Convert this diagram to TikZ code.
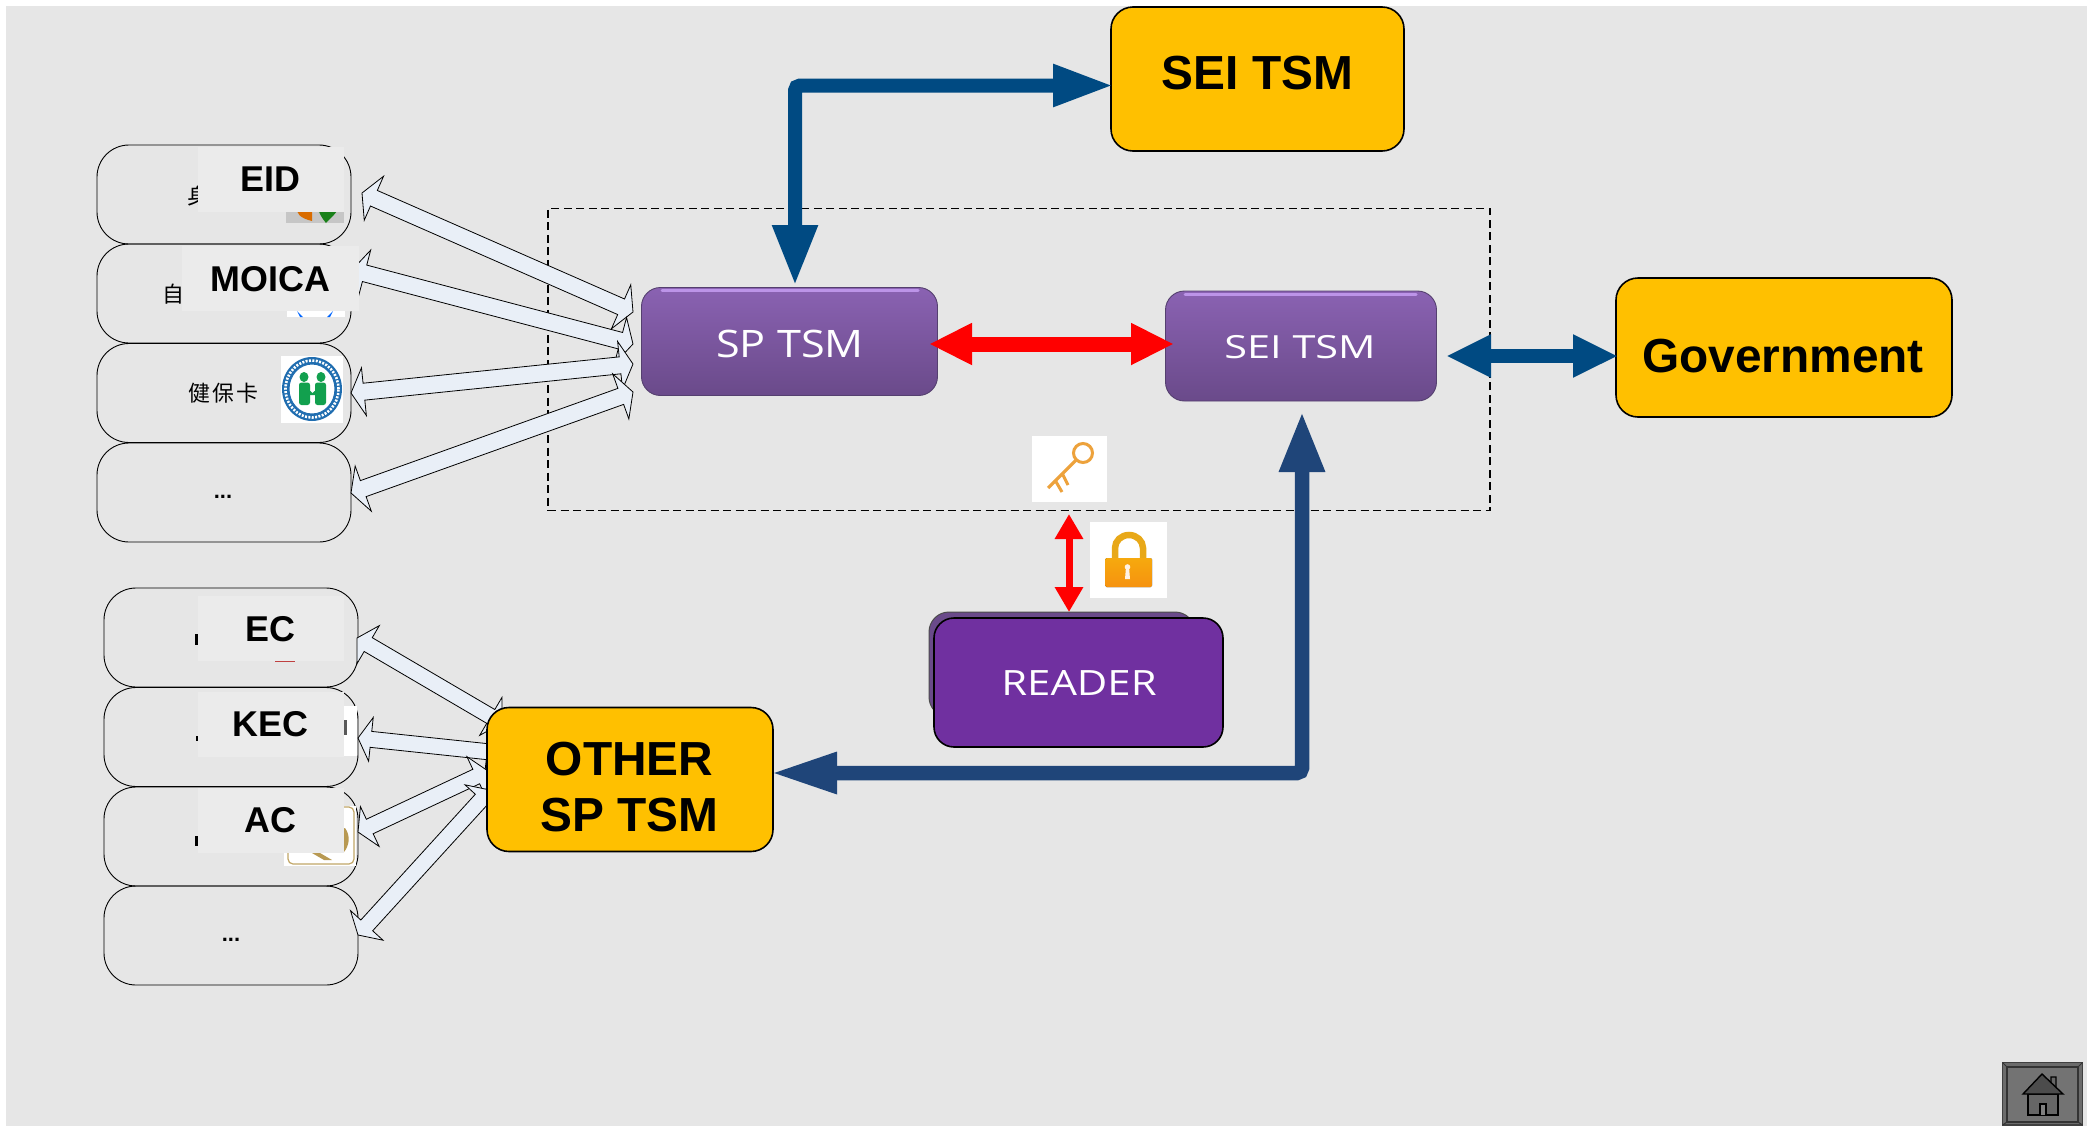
\documentclass[tikz,border=0pt]{standalone}
\usepackage{fontspec}
\setmainfont{Liberation Sans}
\newfontfamily\cjkfont{Noto Sans CJK TC}
\newfontfamily\uifont{Open Sans}
\usetikzlibrary{arrows.meta,calc,positioning}
\definecolor{bggray}{HTML}{E6E6E6}
\definecolor{patchgray}{HTML}{EBEBEB}
\definecolor{amber}{HTML}{FFC000}
\definecolor{deepblue}{HTML}{004A82}
\definecolor{navyblue}{HTML}{1F4579}
\definecolor{paleblue}{HTML}{E9EFF7}
\definecolor{royal}{HTML}{7030A0}
\definecolor{tsmtop}{HTML}{8A62B2}
\definecolor{tsmbot}{HTML}{6A4A8A}
\definecolor{tsmedge}{HTML}{55406F}
\definecolor{tsmlight}{HTML}{BC94E8}
\definecolor{keyorange}{HTML}{EDA23C}
\definecolor{lockorange}{HTML}{F59A10}
\definecolor{lockyellow}{HTML}{E8A818}
\definecolor{logoblue}{HTML}{1F6DB0}
\definecolor{logogreen}{HTML}{12A04E}
\tikzset{
  x=1bp,y=-1bp,
  card/.style={draw=black,line width=0.9bp,rounded corners=32bp,minimum width=#1,minimum height=99bp,inner sep=0pt},
  card/.default=254bp,
  patch/.style={fill=patchgray,draw=none,inner sep=0pt},
  patchlabel/.style={font=\fontsize{36}{36}\selectfont\bfseries,inner sep=0pt},
  amberbox/.style={fill=amber,draw=black,line width=1.6bp,rounded corners=22bp,inner sep=0pt},
  amberlabel/.style={font=\fontsize{48}{57}\selectfont\bfseries,align=center,inner sep=0pt},
  tsmbox/.style={draw=tsmedge,line width=0.9bp,rounded corners=19bp,inner sep=0pt,top color=tsmtop,bottom color=tsmbot},
  tsmshine/.style={draw=tsmlight,line width=3bp,line cap=round},
  uilabel/.style={font=\uifont,text=white,inner sep=0pt},
  cjk/.style={font=\cjkfont\fontsize{22}{22}\selectfont,inner sep=0pt},
  dots/.style={font=\fontsize{22}{22}\selectfont\bfseries,inner sep=0pt},
  blockarrow/.style={fill=paleblue,draw=black,line width=0.8bp,line join=miter},
}
% double block arrow between two named coordinates: #1,#2 ends; #3 half shaft; #4 head length; #5 half head
\newcommand{\blockarr}[5]{%
  \draw[blockarrow]
    (#1)
    -- ($(#1)!#4bp!(#2)!#5bp!90:(#2)$)
    -- ($(#1)!#4bp!(#2)!#3bp!90:(#2)$)
    -- ($(#2)!#4bp!(#1)!#3bp!-90:(#1)$)
    -- ($(#2)!#4bp!(#1)!#5bp!-90:(#1)$)
    -- (#2)
    -- ($(#2)!#4bp!(#1)!#5bp!90:(#1)$)
    -- ($(#2)!#4bp!(#1)!#3bp!90:(#1)$)
    -- ($(#1)!#4bp!(#2)!#3bp!-90:(#2)$)
    -- ($(#1)!#4bp!(#2)!#5bp!-90:(#2)$)
    -- cycle;}
\begin{document}
\begin{tikzpicture}
\useasboundingbox (0,0) rectangle (2096,1126);
\fill[white] (0,0) rectangle (2096,1126);
\fill[bggray] (6,6) rectangle (2087,1126);

% dashed frame
\node[draw=black,dash pattern=on 8bp off 4.5bp,line width=1.3bp,minimum width=942bp,minimum height=302bp,inner sep=0pt] (frame) at (1019,359.5) {};

% left group, upper
\node[card] (c1) at (224,194.5) {};
\node[card] (c2) at (224,293.5) {};
\node[card] (c3) at (224,393) {};
\node[card] (c4) at (224,492.5) {};
% left group, lower
\node[card] (d1) at (231,637.5) {};
\node[card] (d2) at (231,737) {};
\node[card] (d3) at (231,836.5) {};
\node[card] (d4) at (231,935.5) {};

% texts in the cards
\node[cjk] (t1) at (198,196) {身};
\node[cjk] (t2) at (173,294) {自};
\node[cjk] (t3) at (223.5,393) {健\hspace{2bp}保\hspace{2bp}卡};
\node[dots] (t4) at (223,497) {...};
\node[dots] (t8) at (231,940) {...};
\fill[black] (195,634) rectangle (198,645);
\fill[black] (196,736) rectangle (198,741);
\fill[black] (195,836) rectangle (198,846);

% SP TSM side coordinates
\coordinate (a1l) at (362,193);  \coordinate (a1r) at (633,312);
\coordinate (a2l) at (352,270);  \coordinate (a2r) at (633,344);
\coordinate (a3l) at (351,393);  \coordinate (a3r) at (633,364);
\coordinate (a4l) at (351,493);  \coordinate (a4r) at (633,392);
\coordinate (b1l) at (357,638);  \coordinate (b1r) at (502,723);
\coordinate (b2l) at (358,738);  \coordinate (b2r) at (500,753);
\coordinate (b3l) at (358,832);  \coordinate (b3r) at (488,771);
\coordinate (b4l) at (358,935);  \coordinate (b4r) at (490,790);

% picture pieces under the patches
\fill[white] (287,300) rectangle (345,317);
\fill[blue!60!cyan] (297,311) -- (303,317) -- (300,317) -- cycle;
\fill[blue!60!cyan] (333,311) -- (327,317) -- (330,317) -- cycle;
\fill[gray!45] (286,205) rectangle (344,223);
\fill[orange!85!black] (296,205) .. controls (296,214) and (300,218) .. (312,221) -- (312,205) -- cycle;
\fill[green!50!black!80!gray] (317,205) -- (340,205) .. controls (336,215) and (330,218) .. (326,223) .. controls (322,218) and (319,214) .. (317,205) -- cycle;
\fill[white] (343,706) rectangle (357,756);
\fill[black!65] (344,720) rectangle (347,735);
\fill[green!45!black] (342.5,637) rectangle (344,650);
\fill[red!50!gray] (275,661) rectangle (295,662);
\fill[white] (284,806) rectangle (356,866);
\draw[draw=brown!60!olive!70,line width=1.2bp,rounded corners=5bp] (288,807) rectangle (354,864);
\fill[brown!60!olive!80] (345,828) .. controls (351,836) and (349,846) .. (344,852) -- (338,850) .. controls (344,845) and (344,836) .. (340,830) -- cycle;
\fill[brown!60!olive!80] (312,853) -- (320,853) -- (332,860) -- (324,860) -- cycle;

% block arrows
\blockarr{a1l}{a1r}{8.5}{13}{24}
\blockarr{a2l}{a2r}{8.5}{13}{24}
\blockarr{a3l}{a3r}{8.5}{13}{24}
\blockarr{a4l}{a4r}{8.5}{13}{24}
\blockarr{b1l}{b1r}{8}{13}{22}
\blockarr{b2l}{b2r}{8}{13}{22}
\blockarr{b3l}{b3r}{8}{13}{22}
\blockarr{b4l}{b4r}{8}{13}{22}

% patches with their labels
\node[patch,minimum width=146bp,minimum height=65bp] (p1) at (270.5,179.5) {};
\node[patch,minimum width=177bp,minimum height=65bp] (p2) at (270.5,278.5) {};
\node[patch,minimum width=146bp,minimum height=65bp] (p5) at (270.5,628.5) {};
\node[patch,minimum width=146bp,minimum height=65bp] (p6) at (270.5,724.5) {};
\node[patch,minimum width=146bp,minimum height=65bp] (p7) at (270.5,820.5) {};
\node[patchlabel] (eid) at (270,179.5) {EID};
\node[patchlabel] (moica) at (270.5,279) {MOICA};
\node[patchlabel] (ec) at (270.5,629) {EC};
\node[patchlabel] (kec) at (270.5,724.5) {KEC};
\node[patchlabel] (ac) at (270.5,820.5) {AC};

% health insurance logo
\fill[white] (281,356) rectangle (343,423);
\fill[logoblue] (312,389) ellipse (30bp and 32bp);
\draw[draw=white,line width=2.6bp,dash pattern=on 2bp off 1.4bp] (312,389) ellipse (26.5bp and 28.5bp);
\fill[white] (312,389) ellipse (23bp and 25bp);
\draw[draw=logoblue,line width=1bp] (312,389) ellipse (23bp and 25bp);
\fill[logogreen] (304,377) ellipse (4.5bp and 5bp);
\fill[logogreen] (321,377) ellipse (4.5bp and 5bp);
\fill[logogreen,rounded corners=2.5bp] (299,382.5) -- (310,382.5) -- (310,405) -- (299,405) -- cycle;
\fill[logogreen,rounded corners=2.5bp] (315,382.5) -- (326,382.5) -- (326,405) -- (315,405) -- cycle;
\fill[logogreen] (308,389) -- (312.5,393) -- (317,389) -- (317,395) -- (308,395) -- cycle;

% amber boxes
\node[amberbox,minimum width=293bp,minimum height=144bp] (seiy) at (1257.5,79) {};
\node[amberlabel] (seiyt) at (1257.5,73.5) {SEI TSM};
\node[amberbox,minimum width=336bp,minimum height=139bp] (gov) at (1784,347.5) {};
\node[amberlabel] (govt) at (1783,356) {Government};
\node[amberbox,minimum width=286bp,minimum height=144bp] (other) at (630,779.5) {};
\node[amberlabel] (othert) at (629.5,787) {OTHER\\SP TSM};

% purple boxes
\node[tsmbox,minimum width=296bp,minimum height=108bp] (sp) at (789.5,341.5) {};
\node[tsmbox,minimum width=271bp,minimum height=110bp] (sei) at (1301,346) {};
\draw[tsmshine] (662,290) -- (918,290);
\draw[tsmshine] (1185,294) -- (1416,294);
\node[uilabel] (spt) at (790,343.5) {\scalebox{1.14}[1]{\fontsize{38}{38}\selectfont SP TSM}};
\node[uilabel] (seit) at (1300,347) {\scalebox{1.3}[1]{\fontsize{32}{32}\selectfont SEI TSM}};

% reader
\node[draw=black!70,fill=tsmbot,line width=1bp,rounded corners=20bp,minimum width=266bp,minimum height=105bp,inner sep=0pt] (rback) at (1062,664.5) {};
\node[draw=black,fill=royal,line width=1.6bp,rounded corners=20bp,minimum width=289bp,minimum height=129bp,inner sep=0pt] (reader) at (1078.5,682.5) {};
\node[uilabel] (readert) at (1079,683) {\scalebox{1.2}[1]{\fontsize{35}{35}\selectfont READER}};

% key
\node[fill=white,minimum width=75bp,minimum height=66bp,inner sep=0pt] (key) at (1069.5,469) {};
\draw[draw=keyorange,line width=3bp] (1083,453) circle (9.5bp);
\draw[draw=keyorange,line width=3.2bp] (1076,460) -- (1048,488);
\draw[draw=keyorange,line width=3bp] (1055,480) -- (1062,492);
\draw[draw=keyorange,line width=3bp] (1062,473) -- (1068,485);

% lock
\node[fill=white,minimum width=77bp,minimum height=76bp,inner sep=0pt] (lock) at (1128.5,560) {};
\draw[draw=lockyellow,line width=6.5bp] (1115,559) -- (1115,548) arc[start angle=180,end angle=0,x radius=14bp,y radius=13bp] -- (1143,559);
\fill[rounded corners=1.5bp,top color=lockorange!85!yellow,bottom color=lockorange!95!red] (1105,558) rectangle (1152,587);
\fill[white!90!orange] (1127.5,567) circle (2.8bp);
\fill[white!90!orange] (1126,567) -- (1129,567) -- (1130,579) -- (1125,579) -- cycle;

% connectors
\coordinate (spin) at (795,286);
\coordinate (corner) at (795,85.5);
\coordinate (seiin) at (1114,85.5);
\draw[draw=deepblue,line width=14bp,rounded corners=5bp,{Triangle[length=61bp,width=42bp]}-{Triangle[length=61bp,width=39bp]}] (spin) -- (corner) -- (seiin);
\coordinate (gl) at (1446,356);
\coordinate (gr) at (1618,356);
\draw[draw=deepblue,line width=14bp,{Triangle[length=45bp,width=40bp]}-{Triangle[length=45bp,width=40bp]}] (gl) -- (gr);
\coordinate (up) at (1302,411);
\coordinate (bend) at (1302,773);
\coordinate (ol) at (770,773);
\draw[draw=navyblue,line width=14.5bp,rounded corners=5bp,{Triangle[length=67bp,width=38bp]}-{Triangle[length=61bp,width=42bp]}] (ol) -- (bend) -- (up);
\coordinate (rl) at (929,344);
\coordinate (rr) at (1174,344);
\draw[draw=red,line width=15bp,{Triangle[length=43bp,width=39bp]}-{Triangle[length=43bp,width=39bp]}] (rl) -- (rr);
\coordinate (vt) at (1069,514);
\coordinate (vb) at (1069,612);
\draw[draw=red,line width=7bp,{Triangle[length=25bp,width=27bp]}-{Triangle[length=25bp,width=27bp]}] (vt) -- (vb);

% home button
\fill[black!58] (2002,1062) rectangle (2083,1126);
\draw[draw=black!75,line width=1.6bp] (2002.5,1062.5) rectangle (2082.5,1125);
\draw[draw=black!80,line width=1.4bp,fill=black!55] (2007,1067) rectangle (2078,1122);
\draw[draw=black!80,line width=1bp] (2002.5,1062.5) -- (2007,1067) (2082.5,1062.5) -- (2078,1067) (2002.5,1125) -- (2007,1122) (2082.5,1125) -- (2078,1122);
\draw[draw=black,line width=1.4bp,fill=black!60] (2051,1085) -- (2051,1077) -- (2056,1077) -- (2056,1088) -- cycle;
\draw[draw=black,line width=1.4bp,fill=black!60] (2028,1094) rectangle (2058,1115);
\draw[draw=black,line width=1.4bp,fill=black!70] (2042,1074) -- (2023,1094) -- (2063,1094) -- cycle;
\draw[draw=black,line width=1.4bp,fill=black!50] (2040,1115) -- (2040,1104) -- (2046,1104) -- (2046,1115);
\end{tikzpicture}
\end{document}
